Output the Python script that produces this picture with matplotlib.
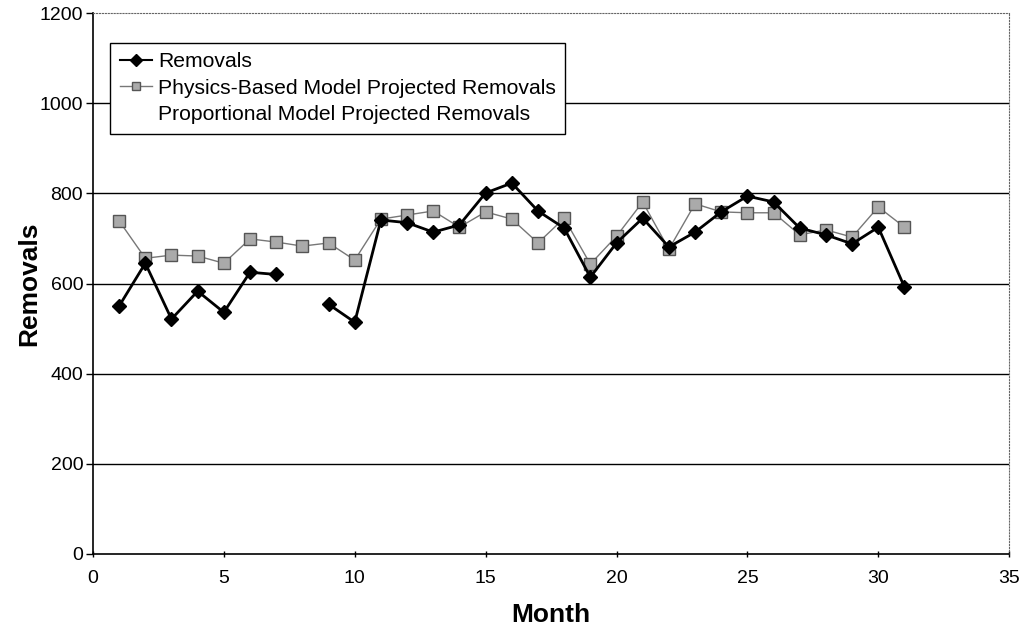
import numpy as np
import matplotlib.pyplot as plt
from matplotlib.lines import Line2D

plt.rcParams['font.family'] = ['Liberation Sans', 'DejaVu Sans']

months = np.arange(1, 32)
removals = [550, 645, 521, 583, 536, 625, 620, np.nan, 554, 514,
            741, 735, 714, 730, 801, 823, 761, 723, 614, 690,
            745, 681, 714, 759, 794, 781, 723, 708, 688, 725, 592]
physics = [739, 656, 663, 661, 645, 699, 692, 683, 690, 652,
           743, 752, 761, 725, 759, 743, 690, 745, 643, 705,
           781, 676, 777, 759, 757, 757, 708, 719, 703, 770, 725]

fig = plt.figure(figsize=(10.26, 6.3), dpi=100)
ax = fig.add_axes([0.0906, 0.121, 0.893, 0.858])

for y in range(200, 1200, 200):
    ax.axhline(y, color='black', lw=1.0, zorder=1)

ax.plot(months, physics, color='#777777', lw=1.0, marker='s', markersize=8,
        markerfacecolor='#aaaaaa', markeredgecolor='#555555', zorder=3,
        label='Physics-Based Model Projected Removals')
ax.plot(months, removals, color='black', lw=2.0, marker='D', markersize=7,
        markerfacecolor='black', markeredgecolor='black', zorder=4,
        label='Removals')

ax.set_xlim(0, 35)
ax.set_ylim(0, 1200)
ax.set_xticks(range(0, 36, 5))
ax.set_yticks(range(0, 1201, 200))
ax.tick_params(axis='both', labelsize=14, length=5, width=1, color='black')
ax.tick_params(axis='x', direction='inout', pad=9)
ax.tick_params(axis='y', direction='out', pad=2)

for side in ['top', 'right']:
    ax.spines[side].set_linestyle(':')
    ax.spines[side].set_color('#666666')
ax.spines['left'].set_linewidth(1.2)
ax.spines['bottom'].set_linewidth(1.2)

ax.set_xlabel('Month', fontsize=19, fontweight='bold', labelpad=12)
ax.set_ylabel('Removals', fontsize=19, fontweight='bold', labelpad=-1)

handles = [
    Line2D([], [], color='black', lw=1.5, marker='D', markersize=6),
    Line2D([], [], color='#777777', lw=1.0, marker='s', markersize=6,
           markerfacecolor='#aaaaaa', markeredgecolor='#555555'),
    Line2D([], [], color='white', lw=1.5),
]
labels = ['Removals', 'Physics-Based Model Projected Removals',
          'Proportional Model Projected Removals']
leg = ax.legend(handles, labels, loc='upper left', bbox_to_anchor=(0.019, 0.945),
                fontsize=15.2, frameon=True, fancybox=False, framealpha=1,
                edgecolor='black', handlelength=1.5, handletextpad=0.3,
                borderpad=0.45, labelspacing=0.35, borderaxespad=0)
leg.get_frame().set_linewidth(1.0)

fig.savefig('out.png', dpi=100)
